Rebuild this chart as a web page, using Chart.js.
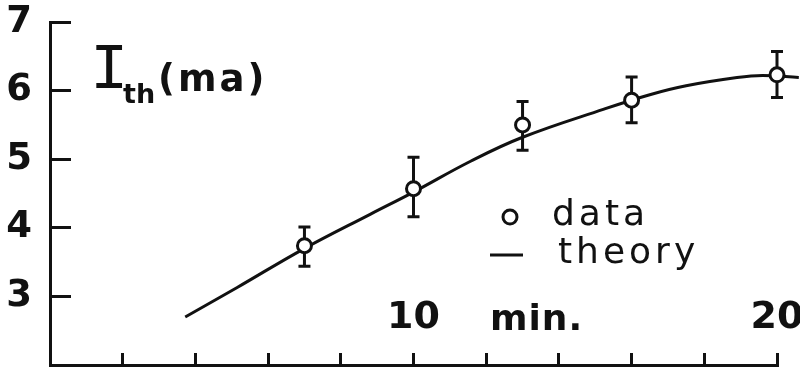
<!DOCTYPE html>
<html>
<head>
<meta charset="utf-8">
<script src="https://cdn.jsdelivr.net/npm/chart.js@4/dist/chart.umd.min.js"></script>
<style>
html, body { margin: 0; padding: 0; background: #fff; }
#wrap { width: 800px; height: 375px; }
</style>
</head>
<body>
<div id="wrap"><canvas id="chart"></canvas></div>
<script>
// measured points (min, mA) with error bar ends
const dataX = [7, 10, 13, 16, 20];
const dataY = [3.74, 4.57, 5.50, 5.86, 6.23];
const errHigh = [4.01, 5.03, 5.84, 6.20, 6.57];
const errLow = [3.44, 4.16, 5.13, 5.53, 5.90];

// theory curve
const theoryX = [3.72, 5.15, 6.97, 8.82, 10.0, 11.57, 13.0, 15.24, 16.5, 17.5, 18.9, 19.6, 20.6];
const theoryY = [2.70, 3.13, 3.69, 4.20, 4.52, 4.97, 5.32, 5.73, 5.94, 6.07, 6.19, 6.22, 6.19];

const xTickLabels = [10, 20];
const yTickLabels = [3, 4, 5, 6, 7];

const INK = '#111';
const FONT = 'DejaVu Sans';

const errorBars = {
    id: 'errorBars',
    beforeDatasetsDraw(chart) {
        const ctx = chart.ctx;
        const xs = chart.scales.x;
        const ys = chart.scales.y;
        ctx.save();
        ctx.strokeStyle = INK;
        ctx.lineWidth = 3;
        for (let i = 0; i < dataX.length; i++) {
            let px = xs.getPixelForValue(dataX[i]);
            let top = ys.getPixelForValue(errHigh[i]);
            let bot = ys.getPixelForValue(errLow[i]);
            ctx.beginPath();
            ctx.moveTo(px, top);
            ctx.lineTo(px, bot);
            ctx.moveTo(px - 6, top);
            ctx.lineTo(px + 6, top);
            ctx.moveTo(px - 6, bot);
            ctx.lineTo(px + 6, bot);
            ctx.stroke();
        }
        ctx.restore();
    }
};

const labels = {
    id: 'labels',
    afterDraw(chart) {
        const ctx = chart.ctx;
        ctx.save();
        ctx.fillStyle = INK;
        ctx.strokeStyle = INK;
        ctx.textBaseline = 'alphabetic';

        // y axis title
        ctx.font = '64px "Liberation Mono"';
        ctx.fillText('I', 90, 88);
        ctx.font = 'bold 27px ' + FONT;
        ctx.fillText('th', 123, 103);
        ctx.font = 'bold 37px ' + FONT;
        ctx.letterSpacing = '3px';
        ctx.fillText('(ma)', 158, 91);

        // x axis title
        ctx.letterSpacing = '1px';
        ctx.font = 'bold 36px ' + FONT;
        ctx.fillText('min.', 490, 330);

        // legend
        ctx.lineWidth = 3;
        ctx.beginPath();
        ctx.arc(510, 217, 7, 0, Math.PI * 2);
        ctx.stroke();
        ctx.beginPath();
        ctx.moveTo(490, 255);
        ctx.lineTo(523, 255);
        ctx.stroke();
        ctx.font = '36px ' + FONT;
        ctx.letterSpacing = '4px';
        ctx.fillText('data', 552, 225);
        ctx.fillText('theory', 558, 263);
        ctx.restore();
    }
};

function buildChart() {
    let ctx = document.getElementById('chart').getContext('2d');
    return new Chart(ctx, {
        type: 'scatter',
        data: {
            datasets: [
                {
                    label: 'data',
                    data: dataX.map((x, i) => ({ x: x, y: dataY[i] })),
                    pointRadius: 7,
                    pointBorderWidth: 3,
                    pointBackgroundColor: '#fff',
                    borderColor: INK,
                    clip: false
                },
                {
                    label: 'theory',
                    type: 'line',
                    data: theoryX.map((x, i) => ({ x: x, y: theoryY[i] })),
                    borderColor: INK,
                    borderWidth: 3,
                    pointRadius: 0,
                    tension: 0.4,
                    fill: false,
                    clip: false
                }
            ]
        },
        options: {
            responsive: true,
            maintainAspectRatio: false,
            animation: false,
            layout: { padding: 0 },
            plugins: {
                legend: { display: false },
                tooltip: { enabled: false }
            },
            scales: {
                x: {
                    type: 'linear',
                    min: 0,
                    max: 20,
                    border: { color: INK, width: 3 },
                    grid: { drawOnChartArea: false, tickLength: -12, tickColor: INK, tickWidth: 3 },
                    ticks: {
                        stepSize: 2,
                        autoSkip: false,
                        maxRotation: 0,
                        mirror: true,
                        padding: 24,
                        color: INK,
                        font: { family: FONT, weight: 'bold', size: 38 },
                        callback: v => xTickLabels.includes(v) ? String(v) : ''
                    },
                    afterFit: s => { s.height = 5; s.paddingLeft = 0; s.paddingRight = 23; }
                },
                y: {
                    min: 2,
                    max: 7,
                    border: { color: INK, width: 3 },
                    grid: { drawOnChartArea: false, tickLength: -21, tickColor: INK, tickWidth: 3 },
                    ticks: {
                        stepSize: 1,
                        padding: 39,
                        color: INK,
                        font: { family: FONT, weight: 'bold', size: 37 },
                        callback: v => yTickLabels.includes(v) ? String(v) : ''
                    },
                    afterFit: s => { s.width = 50; s.paddingTop = 22; s.paddingBottom = 0; }
                }
            }
        },
        plugins: [errorBars, labels]
    });
}

buildChart();
</script>
</body>
</html>
